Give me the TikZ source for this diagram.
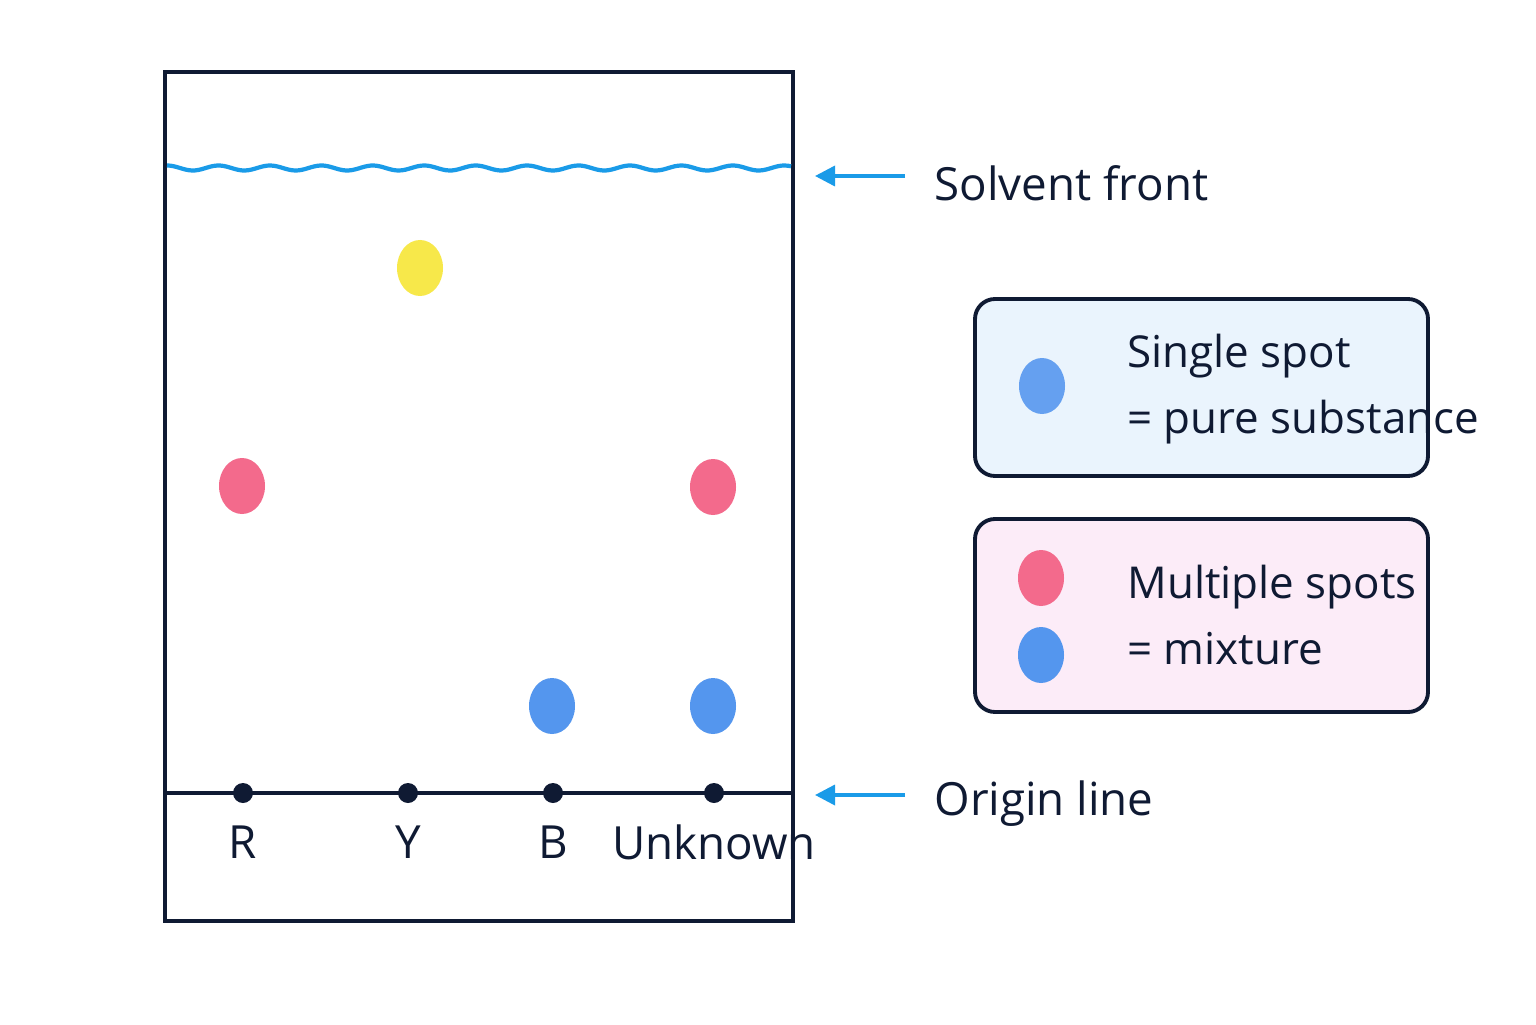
\documentclass[tikz,border=0pt]{standalone}
\usepackage{fontspec}
\setmainfont{Open Sans}
\usepackage{tikz}
\usepackage{xcolor}
\usetikzlibrary{positioning, calc, arrows.meta, shapes.geometric}

\definecolor{inkc}{HTML}{0F1A33}
\definecolor{wavec}{HTML}{1A9BE8}
\definecolor{yelc}{HTML}{F7E84A}
\definecolor{redc}{HTML}{F36A8C}
\definecolor{bluec}{HTML}{5496EE}
\definecolor{boxblue}{HTML}{EAF4FD}
\definecolor{boxpink}{HTML}{FCECF8}

\tikzset{
    spot/.style={ellipse, minimum width=0.46cm, minimum height=0.56cm, inner sep=0pt, fill=#1},
    dot/.style={circle, fill=inkc, minimum size=0.2cm, inner sep=0pt},
    lane/.style={font=\fontsize{13}{15}\selectfont, text=inkc},
    label/.style={font=\fontsize{13}{15}\selectfont, text=inkc, anchor=west},
    keybox/.style={draw=inkc, line width=1.1pt, rounded corners=0.2cm},
    keytext/.style={font=\fontsize{12.5}{19}\selectfont, text=inkc, align=left, anchor=west},
    pointer/.style={-{Triangle[length=0.2cm, width=0.2cm]}, draw=wavec, line width=1pt}
}

\begin{document}
\begin{tikzpicture}[x=1cm, y=1cm]
    \useasboundingbox[fill=white] (0,0) rectangle (15.36,10.24);

    % paper
    \draw[inkc, line width=1.3pt] (1.65,1.03) rectangle (7.93,9.52);
    \draw[wavec, line width=1.2pt, domain=1.67:7.91, samples=200, smooth]
        plot (\x, {8.56 + 0.025*sin(\x*700)});
    \draw[inkc, line width=1pt] (1.65,2.31) -- (7.93,2.31);

    % origin dots and lanes
    \foreach \name/\xx/\txt in {r/2.43/R, y/4.08/Y, b/5.53/B, u/7.14/Unknown} {
        \node[dot] (dot\name) at (\xx,2.31) {};
        \node[lane] (lane\name) at (\xx,1.82) {\txt};
    }

    % spots
    \node[spot=yelc] (spotY) at (4.20,7.56) {};
    \node[spot=redc] (spotR) at (2.42,5.38) {};
    \node[spot=redc] (spotUr) at (7.13,5.37) {};
    \node[spot=bluec] (spotB) at (5.52,3.18) {};
    \node[spot=bluec] (spotUb) at (7.13,3.18) {};

    % pointers
    \coordinate (solventTail) at (9.05,8.48);
    \coordinate (solventHead) at (8.15,8.48);
    \draw[pointer] (solventTail) -- (solventHead);
    \node[label] (solvent) at (9.22,8.41) {Solvent front};
    \coordinate (originTail) at (9.05,2.29);
    \coordinate (originHead) at (8.15,2.29);
    \draw[pointer] (originTail) -- (originHead);
    \node[label] (origin) at (9.22,2.20) {Origin line};

    % key boxes
    \draw[keybox, fill=boxblue] (9.75,5.48) rectangle (14.28,7.25);
    \node[spot=bluec!90!white] (keySingle) at (10.42,6.38) {};
    \node[keytext] (txtSingle) at (11.15,6.35) {Single spot\\= pure substance};
    \draw[keybox, fill=boxpink] (9.75,3.12) rectangle (14.28,5.05);
    \node[spot=redc] (keyRed) at (10.41,4.46) {};
    \node[spot=bluec] (keyBlue) at (10.41,3.69) {};
    \node[keytext] (txtMulti) at (11.15,4.09) {Multiple spots\\= mixture};
\end{tikzpicture}
\end{document}
